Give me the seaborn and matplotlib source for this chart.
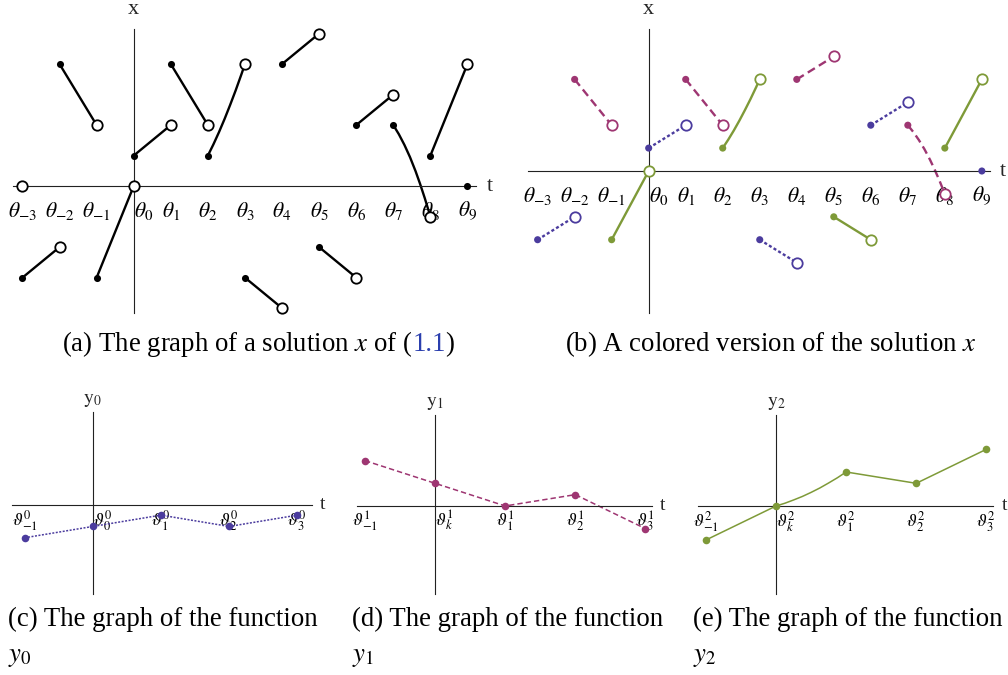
import pandas as pd
import seaborn as sns
import matplotlib.pyplot as plt

sns.set_style("white")
plt.rcParams['font.family'] = ['Liberation Serif', 'DejaVu Serif']
plt.rcParams['mathtext.fontset'] = 'stix'

# ---- solution x: one piece on every interval [theta_k, theta_k+1) ----
seg_start_t = [-3, -2, -1, 0, 1, 2, 3, 4, 5, 6, 7, 8]
seg_start_x = [-3, 4, -3, 1, 4, 1, -3, 4, -2, 2, 2, 1]
seg_end_x = [-2, 2, 0, 2, 2, 4, -4, 5, -3, 3, -1, 4]
# inner points of the two curved pieces
curve_23_t = [2.15, 2.3, 2.45, 2.6, 2.75, 2.9]
curve_23_x = [1.37, 1.77, 2.2, 2.66, 3.14, 3.65]
curve_78_t = [7.15, 7.3, 7.45, 7.6, 7.72, 7.85]
curve_78_x = [1.7, 1.35, 0.95, 0.49, 0.08, -0.4]
last_t, last_x = 9, 0
extra_open_t, extra_open_x = -3, 0   # only drawn in panel (a)

theta_ticks = list(range(-3, 10))
theta_labels = [r'$\theta_{%d}$' % k for k in theta_ticks]

# ---- the functions y0, y1, y2 ----
y_ticks = [-1, 0, 1, 2, 3]
y0_vals = [-2.9, -1.9, -0.9, -1.9, -0.9]
y1_vals = [4, 2, 0, 1, -2]
y2_vals = [-3, 0, 3, 2, 5]
curve_y2_t = [0.125, 0.25, 0.375, 0.5, 0.625, 0.75, 0.875]
curve_y2_v = [0.24, 0.53, 0.84, 1.2, 1.59, 2.03, 2.49]

groups = ['blue', 'magenta', 'green']
pal = {'blue': '#4b3c9e', 'magenta': '#9e3672', 'green': '#7e9a38'}
dash_map = {'blue': (1.3, 1.0), 'magenta': (3.5, 2.0), 'green': ''}

W, H = 1008, 675
fig = plt.figure(figsize=(W / 100, H / 100), dpi=100)


def px_axes(left, top, right, bottom):
    """axes placed by pixel box"""
    return fig.add_axes([left / W, 1 - bottom / H, (right - left) / W,
                         (bottom - top) / H])


def cross_axes(ax, xlim, ylim, ticks, labels, fs, pad, tlen, vname, toff,
               voff, lab_fs):
    """axes that cross at the origin, like Mathematica"""
    ax.set_xlim(xlim)
    ax.set_ylim(ylim)
    ax.patch.set_visible(False)
    for side in ['top', 'right']:
        ax.spines[side].set_visible(False)
    for side in ['left', 'bottom']:
        ax.spines[side].set_position(('data', 0))
        ax.spines[side].set_color('#222222')
        ax.spines[side].set_linewidth(0.8)
    ax.set_yticks([])
    ax.set_xticks(ticks)
    ax.set_xticklabels(labels, fontsize=fs)
    ax.tick_params(axis='x', direction='in', length=tlen, width=0.8,
                   pad=pad, colors='#222222')
    for tk, lab in zip(ticks, ax.get_xticklabels()):
        lab.set_color('black')
        if tk == 0:
            lab.set_horizontalalignment('left')
    ax.set_xlabel('')
    ax.set_ylabel('')
    ax.annotate('t', xy=(1, 0), xycoords=('axes fraction', 'data'),
                xytext=(toff, 0), textcoords='offset points',
                ha='left', va='center', fontsize=lab_fs)
    ax.annotate(vname, xy=(0, 1), xycoords=('data', 'axes fraction'),
                xytext=(0, voff), textcoords='offset points',
                ha='center', va='center', fontsize=lab_fs)


# ---- tables for the pieces of x ----
rows = []
for i, t0 in enumerate(seg_start_t):
    ts = [t0, t0 + 1]
    xs = [seg_start_x[i], seg_end_x[i]]
    if t0 == 2:
        ts = [t0] + curve_23_t + [t0 + 1]
        xs = [seg_start_x[i]] + curve_23_x + [seg_end_x[i]]
    if t0 == 7:
        ts = [t0] + curve_78_t + [t0 + 1]
        xs = [seg_start_x[i]] + curve_78_x + [seg_end_x[i]]
    grp = groups[(t0 + 3) % 3]
    for t, x in zip(ts, xs):
        rows.append({'seg': i, 't': t, 'x': x, 'grp': grp})
lines = pd.DataFrame(rows)

filled = pd.DataFrame({'t': seg_start_t + [last_t],
                       'x': seg_start_x + [last_x],
                       'grp': [groups[(t + 3) % 3] for t in seg_start_t]
                       + ['blue']})
opened = pd.DataFrame({'t': [t + 1 for t in seg_start_t],
                       'x': seg_end_x,
                       'grp': [groups[(t + 3) % 3] for t in seg_start_t]})

# ---- (a) black version ----
ax_a = px_axes(13.3, 29, 476, 313)
sns.lineplot(data=lines, x='t', y='x', units='seg', estimator=None,
             sort=False, color='black', linewidth=1.7, ax=ax_a, legend=False)
sns.scatterplot(data=filled, x='t', y='x', color='black', s=26, linewidth=0,
                zorder=4, ax=ax_a, clip_on=False)
open_a = pd.concat([opened, pd.DataFrame({'t': [extra_open_t],
                                          'x': [extra_open_x]})])
sns.scatterplot(data=open_a, x='t', y='x', color='white', edgecolor='black',
                s=56, linewidth=1.3, zorder=4, ax=ax_a, clip_on=False)
cross_axes(ax_a, (-3.247, 9.23), (-4.16, 5.15), theta_ticks, theta_labels,
           15.5, 10, 4, 'x', 8, 14, 16)

# ---- (b) coloured version ----
ax_b = px_axes(528, 29, 990, 313)
sns.lineplot(data=lines, x='t', y='x', units='seg', hue='grp', style='grp',
             palette=pal, dashes=dash_map, estimator=None, sort=False,
             linewidth=1.7, ax=ax_b, legend=False)
sns.scatterplot(data=filled, x='t', y='x', hue='grp', palette=pal, s=26,
                linewidth=0, zorder=4, ax=ax_b, legend=False, clip_on=False)
for g in groups:
    sns.scatterplot(data=opened[opened['grp'] == g], x='t', y='x',
                    color='white', edgecolor=pal[g], s=56, linewidth=1.3,
                    zorder=4, ax=ax_b, clip_on=False)
cross_axes(ax_b, (-3.26, 9.22), (-6.2, 6.2), theta_ticks, theta_labels,
           15.5, 10, 4, 'x', 7, 14, 16)

# ---- (c), (d), (e): the functions y0, y1, y2 ----
bottom = [
    ('0', y0_vals, 'blue', (12.3, 412, 311.7, 594), (-1.18, 3.21),
     (-7.86, 8.2)),
    ('1', y1_vals, 'magenta', (357.3, 415, 651.7, 594), (-1.11, 3.09),
     (-7.77, 8.03)),
    ('2', y2_vals, 'green', (698.3, 415, 993.3, 594), (-1.11, 3.10),
     (-7.77, 8.03)),
]
for idx, vals, g, box, xl, yl in bottom:
    ax = px_axes(*box)
    ts = list(y_ticks)
    vs = list(vals)
    if idx == '2':
        ts = ts[:2] + curve_y2_t + ts[2:]
        vs = vs[:2] + curve_y2_v + vs[2:]
    df_line = pd.DataFrame({'t': ts, 'v': vs, 'grp': g})
    sns.lineplot(data=df_line, x='t', y='v', hue='grp', style='grp',
                 palette=pal, dashes={g: dash_map[g]}, estimator=None,
                 sort=False, linewidth=1.1, ax=ax, legend=False)
    sns.scatterplot(x=y_ticks, y=vals, color=pal[g], s=30, linewidth=0,
                    zorder=4, ax=ax, clip_on=False)
    sub0 = '0' if idx == '0' else 'k'
    labs = [r'$\vartheta^{%s}_{%s}$' % (idx, s)
            for s in ['-1', sub0, '1', '2', '3']]
    cross_axes(ax, xl, yl, y_ticks, labs, 13, 2, 3,
               r'$\mathrm{y}_{%s}$' % idx, 6, 8, 14)

# ---- captions ----
cap_fs = 19.3


def caption(x_px, y_px, parts):
    renderer = fig.canvas.get_renderer()
    x = x_px
    for txt, col in parts:
        t = fig.text(x / W, 1 - y_px / H, txt, color=col, fontsize=cap_fs,
                     ha='left', va='baseline')
        x = t.get_window_extent(renderer).x1


caption(62, 351, [('(a) The graph of a solution $x$ of (', 'black'),
                  ('1.1', '#2b3fae'), (')', 'black')])
caption(565, 351, [('(b) A colored version of the solution $x$', 'black')])
for x0, k in [(8, '0'), (352, '1'), (693, '2')]:
    lab = '(%s) The graph of the function' % 'cde'[int(k)]
    caption(x0, 626, [(lab, 'black')])
    caption(x0, 661, [(r'$y_{%s}$' % k, 'black')])

fig.savefig('out.png', dpi=100)
